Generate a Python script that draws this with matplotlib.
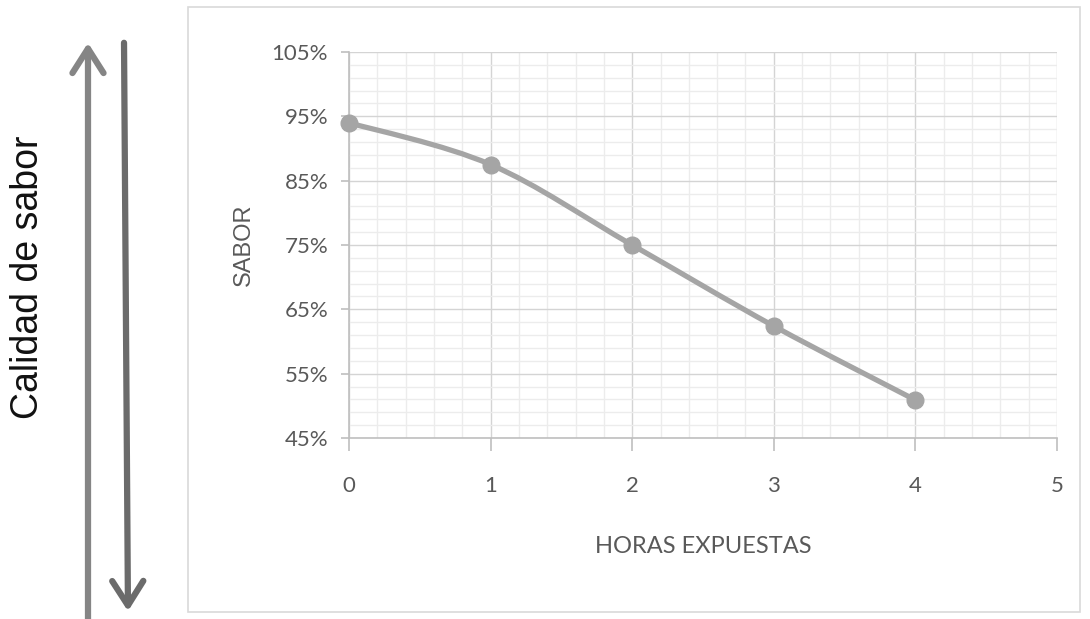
import matplotlib.pyplot as plt
from matplotlib.path import Path
from matplotlib.patches import PathPatch, Rectangle, FancyArrowPatch
from matplotlib.ticker import FuncFormatter

horas = [0, 1, 2, 3, 4]
sabor = [94.0, 87.5, 75.0, 62.4, 50.9]
x_ticks = [0, 1, 2, 3, 4, 5]
y_ticks = [45, 55, 65, 75, 85, 95, 105]

W, H = 1090, 619
fig = plt.figure(figsize=(W / 100, H / 100), dpi=100)
fig.patch.set_facecolor("white")

def fx(px):
    return px / W

def fy(py):
    return 1 - py / H

# chart area border
fig.patches.append(Rectangle((fx(188), fy(612)), fx(1080) - fx(188), fy(7) - fy(612),
                             transform=fig.transFigure, fill=False,
                             edgecolor="#d9d9d9", lw=1.2))

ax = fig.add_axes([fx(349), fy(438), fx(1057) - fx(349), fy(52) - fy(438)])
ax.set_xlim(0, 5)
ax.set_ylim(45, 105)
ax.set_xticks(x_ticks)
ax.set_xticks([v / 5 for v in range(26)], minor=True)
ax.set_yticks(y_ticks)
ax.set_yticks(list(range(45, 106, 2)), minor=True)
ax.yaxis.set_major_formatter(FuncFormatter(lambda v, p: "%d%%" % round(v)))

ax.grid(which="major", color="#d4d4d4", lw=1.0)
ax.grid(which="minor", color="#ececec", lw=1.0)
ax.set_axisbelow(True)
for s in ["top", "right"]:
    ax.spines[s].set_visible(False)
for s in ["left", "bottom"]:
    ax.spines[s].set_color("#bfbfbf")
    ax.spines[s].set_linewidth(1.2)

fam = ["Lato", "DejaVu Sans"]
ax.tick_params(which="minor", length=0)
ax.tick_params(axis="x", which="major", length=9, width=1.2, color="#bfbfbf",
               pad=18, labelsize=16, labelcolor="#595959")
ax.tick_params(axis="y", which="major", length=6, width=1.2, color="#bfbfbf",
               pad=9, labelsize=16, labelcolor="#595959")
for lab in ax.get_xticklabels() + ax.get_yticklabels():
    lab.set_family(fam)

ax.set_xlabel("HORAS EXPUESTAS", family=fam, fontsize=17, color="#595959", labelpad=29)
ax.set_ylabel("SABOR", family="Liberation Sans", fontsize=17, color="#595959", labelpad=12)

# smoothed line through the points (Catmull-Rom as cubic Bezier segments)
verts = [(horas[0], sabor[0])]
codes = [Path.MOVETO]
n = len(horas)
for i in range(n - 1):
    p0 = (horas[max(i - 1, 0)], sabor[max(i - 1, 0)])
    p1 = (horas[i], sabor[i])
    p2 = (horas[i + 1], sabor[i + 1])
    p3 = (horas[min(i + 2, n - 1)], sabor[min(i + 2, n - 1)])
    c1 = (p1[0] + (p2[0] - p0[0]) / 6, p1[1] + (p2[1] - p0[1]) / 6)
    c2 = (p2[0] - (p3[0] - p1[0]) / 6, p2[1] - (p3[1] - p1[1]) / 6)
    verts += [c1, c2, p2]
    codes += [Path.CURVE4] * 3
ax.add_patch(PathPatch(Path(verts, codes), fill=False, edgecolor="#a5a5a5",
                       lw=3.8, capstyle="round", zorder=3, clip_on=False))
ax.plot(horas, sabor, ls="none", marker="o", ms=12, color="#a5a5a5",
        zorder=4, clip_on=False)

# arrows and side label
up = FancyArrowPatch((fx(88), fy(622)), (fx(88), fy(40)), transform=fig.transFigure,
                     arrowstyle="->,head_length=11,head_width=7", lw=4.5,
                     color="#858585", mutation_scale=1.6, capstyle="round",
                     joinstyle="round")
down = FancyArrowPatch((fx(124), fy(40)), (fx(128), fy(614)), transform=fig.transFigure,
                       arrowstyle="->,head_length=11,head_width=7", lw=4.5,
                       color="#6b6b6b", mutation_scale=1.6, capstyle="round",
                       joinstyle="round")
fig.patches.extend([up, down])

fig.text(fx(28), fy(277), "Calidad de sabor", rotation=90, ha="center", va="center",
         fontsize=27, color="#111111", family="Liberation Sans")

fig.savefig("out.png", dpi=100)
